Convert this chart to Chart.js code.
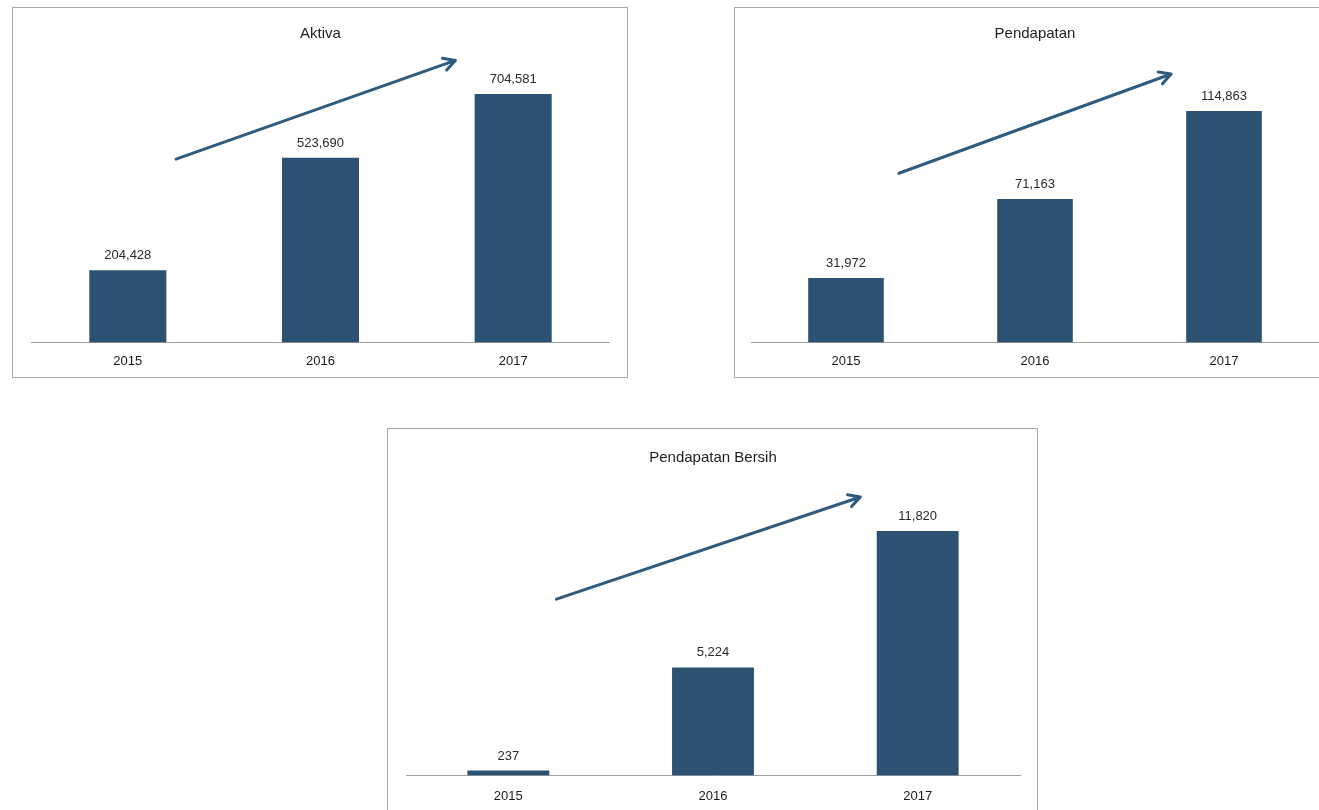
<!DOCTYPE html>
<html>
<head>
<meta charset="utf-8">
<script src="https://cdn.jsdelivr.net/npm/chart.js@4"></script>
<style>
  html, body { margin: 0; padding: 0; background: #fff; overflow: hidden; }
  body { width: 1319px; height: 810px; position: relative; }
  .box { position: absolute; border: 1px solid #a8a8a8; box-sizing: border-box; background: #fff; overflow: visible; }
  .box canvas { display: block; }
</style>
</head>
<body>
<div class="box" style="left:12px; top:7px; width:616px; height:371px;"><canvas id="c1"></canvas></div>
<div class="box" style="left:734px; top:7px; width:600px; height:371px;"><canvas id="c2"></canvas></div>
<div class="box" style="left:387px; top:428px; width:651px; height:390px;"><canvas id="c3"></canvas></div>
<script>
const years = ['2015', '2016', '2017'];
const aktiva = [204428, 523690, 704581];
const pendapatan = [31972, 71163, 114863];
const pendapatanBersih = [237, 5224, 11820];

const barColor = '#2c5172';
const fontFam = '"Liberation Sans", Arial, sans-serif';

// label angka di atas batang
const valueLabels = {
  id: 'valueLabels',
  afterDatasetsDraw(chart) {
    const ctx = chart.ctx;
    const meta = chart.getDatasetMeta(0);
    ctx.save();
    ctx.font = '13px ' + fontFam;
    ctx.fillStyle = '#2a2a2a';
    ctx.textAlign = 'center';
    ctx.textBaseline = 'bottom';
    meta.data.forEach((bar, i) => {
      const v = chart.data.datasets[0].data[i];
      ctx.fillText(v.toLocaleString('en-US'), bar.x, bar.y - 8);
    });
    ctx.restore();
  }
};

// panah tren, posisi dalam satuan skala (indeks kategori, fraksi dari max)
const trendArrow = {
  id: 'trendArrow',
  afterDatasetsDraw(chart, args, opts) {
    const xs = chart.scales.x, ys = chart.scales.y;
    const step = xs.getPixelForValue(1) - xs.getPixelForValue(0);
    const x0 = xs.getPixelForValue(0) + opts.from[0] * step;
    const x1 = xs.getPixelForValue(0) + opts.to[0] * step;
    const y0 = ys.getPixelForValue(opts.from[1] * ys.max);
    const y1 = ys.getPixelForValue(opts.to[1] * ys.max);
    const ctx = chart.ctx;
    const a = Math.atan2(y1 - y0, x1 - x0);
    const h = 13;
    ctx.save();
    ctx.strokeStyle = '#2f5b7e';
    ctx.lineWidth = 3;
    ctx.lineCap = 'round';
    ctx.lineJoin = 'round';
    ctx.beginPath();
    ctx.moveTo(x0, y0);
    ctx.lineTo(x1, y1);
    ctx.moveTo(x1 - h * Math.cos(a - 0.5), y1 - h * Math.sin(a - 0.5));
    ctx.lineTo(x1, y1);
    ctx.lineTo(x1 - h * Math.cos(a + 0.5), y1 - h * Math.sin(a + 0.5));
    ctx.stroke();
    ctx.restore();
  }
};

function makeChart(id, w, h, title, values, yMax, pad, titlePad, tickPad, arrow) {
  const cv = document.getElementById(id);
  cv.width = w; cv.height = h;
  cv.style.width = w + 'px'; cv.style.height = h + 'px';
  return new Chart(cv.getContext('2d'), {
    type: 'bar',
    data: {
      labels: years,
      datasets: [{
        label: title,
        data: values,
        backgroundColor: barColor,
        categoryPercentage: 1,
        barPercentage: 0.4
      }]
    },
    options: {
      responsive: false,
      animation: false,
      layout: { padding: pad },
      plugins: {
        legend: { display: false },
        tooltip: { enabled: false },
        title: {
          display: true, text: title, color: '#1e1e1e',
          font: { family: fontFam, size: 15, weight: 'normal' },
          padding: titlePad
        },
        trendArrow: arrow
      },
      scales: {
        x: {
          grid: { display: false, drawTicks: false },
          border: { display: true, color: '#a0a0a0', width: 1 },
          ticks: { color: '#1a1a1a', padding: tickPad, font: { family: fontFam, size: 13 } }
        },
        y: { display: false, min: 0, max: yMax }
      }
    },
    plugins: [valueLabels, trendArrow]
  });
}

makeChart('c1', 614, 372, 'Aktiva', aktiva, 800000,
  { left: 18.5, right: 17.5, top: 0, bottom: 0 }, { top: 17, bottom: 17.4 }, 11,
  { from: [0.25, 0.65], to: [1.70, 1.0] });

makeChart('c2', 598, 372, 'Pendapatan', pendapatan, 140000,
  { left: 16.5, right: 14.5, top: 0, bottom: 0 }, { top: 17, bottom: 17.5 }, 11,
  { from: [0.28, 0.60], to: [1.72, 0.952] });

makeChart('c3', 649, 388, 'Pendapatan Bersih', pendapatanBersih, 14000,
  { left: 18, right: 17, top: 0, bottom: 0 }, { top: 20, bottom: 19 }, 13,
  { from: [0.235, 0.609], to: [1.72, 0.962] });
</script>
</body>
</html>
